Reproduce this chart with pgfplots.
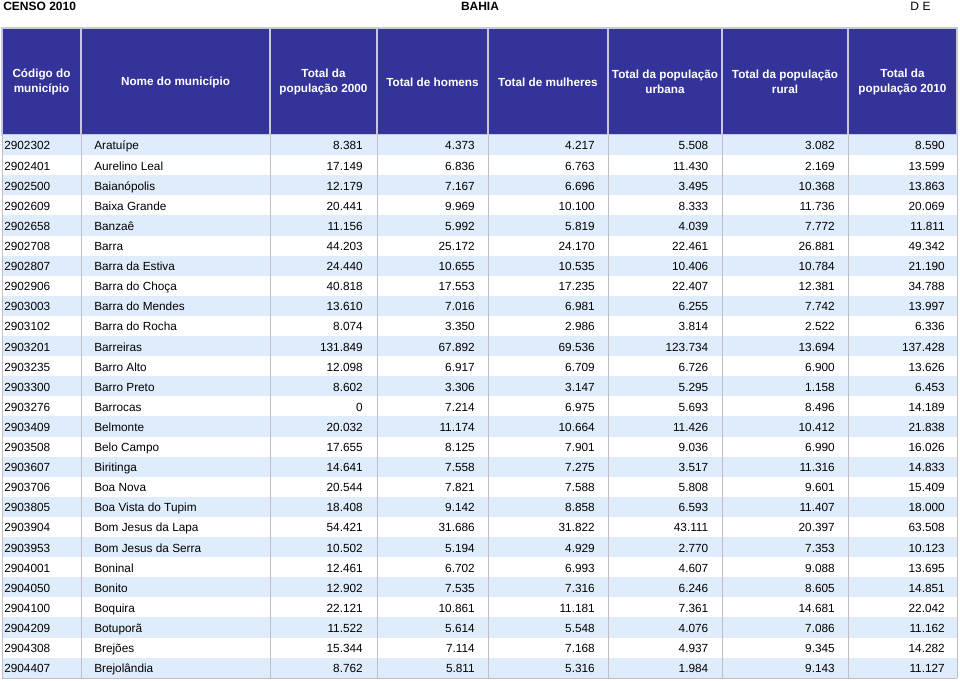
\documentclass[border=0pt]{standalone}
\usepackage{pgfplots}
\pgfplotsset{compat=1.18}
\usepackage{pgfplotstable}
\usepackage{fontspec}
\setmainfont{Liberation Sans}
\definecolor{hdr}{RGB}{51,51,153}
\definecolor{rowblue}{RGB}{222,236,251}
\definecolor{gridgray}{RGB}{190,190,196}
\definecolor{hdrline}{RGB}{200,200,220}

\pgfplotstableread[col sep=semicolon]{
code;name;ptwo;hom;mul;urb;rur;pten
2902302;Aratuípe;8381;4373;4217;5508;3082;8590
2902401;Aurelino Leal;17149;6836;6763;11430;2169;13599
2902500;Baianópolis;12179;7167;6696;3495;10368;13863
2902609;Baixa Grande;20441;9969;10100;8333;11736;20069
2902658;Banzaê;11156;5992;5819;4039;7772;11811
2902708;Barra;44203;25172;24170;22461;26881;49342
2902807;Barra da Estiva;24440;10655;10535;10406;10784;21190
2902906;Barra do Choça;40818;17553;17235;22407;12381;34788
2903003;Barra do Mendes;13610;7016;6981;6255;7742;13997
2903102;Barra do Rocha;8074;3350;2986;3814;2522;6336
2903201;Barreiras;131849;67892;69536;123734;13694;137428
2903235;Barro Alto;12098;6917;6709;6726;6900;13626
2903300;Barro Preto;8602;3306;3147;5295;1158;6453
2903276;Barrocas;0;7214;6975;5693;8496;14189
2903409;Belmonte;20032;11174;10664;11426;10412;21838
2903508;Belo Campo;17655;8125;7901;9036;6990;16026
2903607;Biritinga;14641;7558;7275;3517;11316;14833
2903706;Boa Nova;20544;7821;7588;5808;9601;15409
2903805;Boa Vista do Tupim;18408;9142;8858;6593;11407;18000
2903904;Bom Jesus da Lapa;54421;31686;31822;43111;20397;63508
2903953;Bom Jesus da Serra;10502;5194;4929;2770;7353;10123
2904001;Boninal;12461;6702;6993;4607;9088;13695
2904050;Bonito;12902;7535;7316;6246;8605;14851
2904100;Boquira;22121;10861;11181;7361;14681;22042
2904209;Botuporã;11522;5614;5548;4076;7086;11162
2904308;Brejões;15344;7114;7168;4937;9345;14282
2904407;Brejolândia;8762;5811;5316;1984;9143;11127
}\datatable

\begin{document}
\begin{tikzpicture}
\begin{axis}[
  scale only axis, width=720pt, height=510.75pt,
  xmin=0, xmax=960, ymin=0, ymax=681, y dir=reverse,
  hide axis, clip=false,
  /pgf/number format/fixed,
  /pgf/number format/precision=0,
  /pgf/number format/1000 sep={.},
  /pgf/number format/assume math mode=true,
  numcol/.style={draw=none, mark=none, nodes near coords,
    point meta=explicit,
    every node near coord/.append style={anchor=base east, inner sep=0pt, text=black, font=\fontsize{8.85}{10}\selectfont}},
  txtcol/.style={draw=none, mark=none, nodes near coords,
    point meta=explicit symbolic,
    every node near coord/.append style={anchor=base west, inner sep=0pt, text=black, font=\fontsize{8.85}{10}\selectfont}},
]
% background
\fill[white] (axis cs:0,0) rectangle (axis cs:960,681);
% header band
\fill[hdr] (axis cs:2,28) rectangle (axis cs:957,135);
\draw[hdrline, line width=0.9pt] (axis cs:2,28) rectangle (axis cs:957,135);
\pgfplotsinvokeforeach{81,270,377,488,608,722,848}{
  \draw[hdrline, line width=1.2pt] (axis cs:#1,28) -- (axis cs:#1,135);
}
% row stripes
\pgfplotsinvokeforeach{0,2,...,26}{
  \fill[rowblue] (axis cs:2,{135+20.1*#1}) rectangle (axis cs:957,{155.1+20.1*#1});
}
% body grid
\pgfplotsinvokeforeach{2,81,270,377,488,608,722,848,957}{
  \draw[gridgray, line width=0.75pt] (axis cs:#1,135) -- (axis cs:#1,678);
}
\draw[gridgray, line width=0.75pt] (axis cs:2,678) -- (axis cs:957,678);

% title line
\node[anchor=base west, inner sep=0pt, font=\bfseries\fontsize{9}{10}\selectfont] at (axis cs:3,10.5) {CENSO 2010};
\node[anchor=base, inner sep=0pt, font=\bfseries\fontsize{9}{10}\selectfont] at (axis cs:480,10.5) {BAHIA};
\node[anchor=base west, inner sep=0pt, font=\fontsize{9}{10}\selectfont] at (axis cs:910,10.5) {D\hspace{0.3em}E};

% header labels
\begin{scope}[every node/.style={text=white, align=center, inner sep=0pt, font=\bfseries\fontsize{8.8}{11.25}\selectfont}]
\node at (axis cs:41.5,82) {Código do\\município};
\node at (axis cs:175.5,82) {Nome do município};
\node at (axis cs:323.5,82) {Total da\\população 2000};
\node at (axis cs:432.5,82) {Total de homens};
\node at (axis cs:548,82) {Total de mulheres};
\node at (axis cs:665,82) {Total da população\\urbana};
\node at (axis cs:785,82) {Total da população\\rural};
\node at (axis cs:902.5,82) {Total da\\população 2010};
\end{scope}

% data columns
\addplot[txtcol] table[x expr=4, y expr=150+20.1*\coordindex, meta=code] {\datatable};
\addplot[txtcol] table[x expr=94, y expr=150+20.1*\coordindex, meta=name] {\datatable};
\addplot[numcol] table[x expr=363, y expr=150+20.1*\coordindex, meta=ptwo] {\datatable};
\addplot[numcol] table[x expr=475, y expr=150+20.1*\coordindex, meta=hom] {\datatable};
\addplot[numcol] table[x expr=595, y expr=150+20.1*\coordindex, meta=mul] {\datatable};
\addplot[numcol] table[x expr=708.5, y expr=150+20.1*\coordindex, meta=urb] {\datatable};
\addplot[numcol] table[x expr=835, y expr=150+20.1*\coordindex, meta=rur] {\datatable};
\addplot[numcol] table[x expr=945, y expr=150+20.1*\coordindex, meta=pten] {\datatable};
\end{axis}
\end{tikzpicture}
\end{document}
